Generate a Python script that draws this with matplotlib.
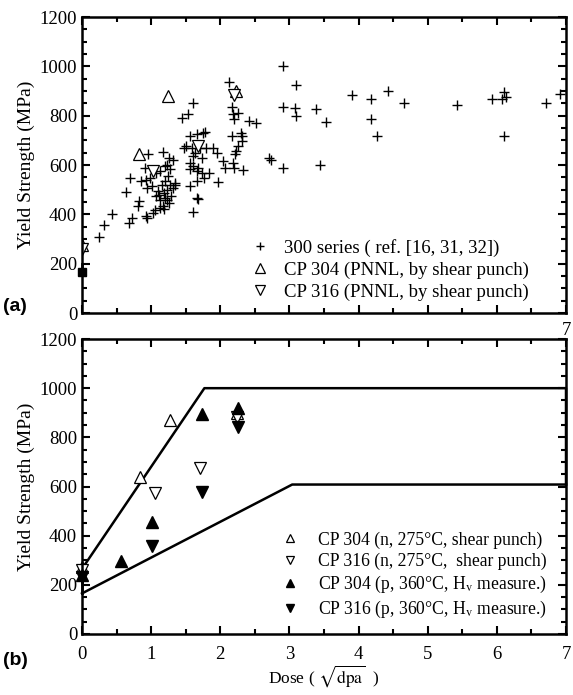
import numpy as np
import matplotlib.pyplot as plt
from matplotlib.ticker import MultipleLocator

plt.rcParams['font.family'] = ['Liberation Serif', 'DejaVu Serif']
plt.rcParams['mathtext.fontset'] = 'stix'

# (a) 300 series literature data, dose in sqrt(dpa), yield strength in MPa
ss300_dose = [0.24, 0.32, 0.44, 0.63, 0.70, 0.68, 0.72, 0.81, 0.83, 0.93, 0.94, 1.03, 1.06,
              1.13, 1.18, 0.95, 1.17,
              0.86, 0.93, 0.98, 0.94, 1.01, 0.91, 1.07, 1.13, 1.20, 1.23, 1.26, 1.31, 1.27,
              1.25, 1.20, 1.15, 1.10, 1.18, 1.23, 1.27, 1.34, 1.31, 1.35, 1.28, 1.23, 1.26,
              1.17, 1.12, 1.07, 1.13, 1.20,
              1.44, 1.54, 1.60, 1.56, 1.66, 1.75, 1.78, 1.47, 1.51, 1.59, 1.71, 1.80, 1.90,
              1.95, 1.64, 1.61, 1.73, 1.56, 1.61, 1.68, 1.56, 1.66, 1.73, 1.83, 1.76, 1.66,
              1.56, 1.96, 1.66, 1.68, 1.61,
              2.13, 2.17, 2.18, 2.26, 2.20, 2.41, 2.51, 2.17, 2.30, 2.31, 2.31, 2.26, 2.23,
              2.21, 2.04, 2.18, 2.07, 2.20, 2.33,
              2.71, 2.73, 2.91, 2.90, 3.10, 2.90, 3.08, 3.10, 3.39, 3.53, 3.44,
              3.91, 4.18, 4.42, 4.65, 4.18, 4.26, 5.42, 5.93, 6.07, 6.10, 6.13, 6.11, 6.71, 6.91]
ss300_ys = [308, 358, 403, 491, 548, 365, 385, 433, 453, 392, 385, 405, 416,
            426, 422, 645, 652,
            534, 541, 548, 507, 514, 588, 568, 575, 595, 602, 629, 622, 582,
            555, 534, 521, 494, 487, 500, 521, 521, 507, 527, 473, 460, 446,
            433, 480, 473, 460, 466,
            792, 805, 853, 717, 724, 731, 734, 670, 677, 670, 670, 670, 670,
            650, 650, 636, 629, 609, 595, 588, 582, 575, 568, 568, 548, 534,
            514, 530, 466, 462, 409,
            938, 837, 805, 812, 785, 778, 769, 717, 731, 717, 697, 677, 656,
            643, 616, 609, 588, 588, 579,
            629, 620, 586, 1002, 923, 835, 833, 799, 828, 774, 602,
            883, 869, 900, 853, 788, 717, 843, 867, 867, 896, 877, 717, 853, 887]

# CP 304 / CP 316 shear punch (PNNL)
cp304_sp_dose = [0.0, 0.83, 1.25, 2.23]
cp304_sp_ys = [275, 643, 880, 900]
cp316_sp_dose = [0.0, 1.03, 1.68, 2.20]
cp316_sp_ys = [260, 575, 677, 883]

# (b) neutron (shear punch) and proton (Hv) data
cp304_n_dose = [0.0, 0.84, 1.27, 2.24]
cp304_n_ys = [274, 640, 871, 900]
cp316_n_dose = [0.0, 1.06, 1.71, 2.24]
cp316_n_ys = [262, 575, 677, 884]
cp304_p_dose = [0.0, 0.56, 1.01, 1.74, 2.25]
cp304_p_ys = [240, 298, 457, 894, 918]
cp316_p_dose = [0.0, 1.01, 1.74, 2.25]
cp316_p_ys = [230, 359, 576, 843]

# bounding lines
upper_dose = [0.0, 1.77, 7.0, 7.0]
upper_ys = [265, 1000, 1000, 608]
lower_dose = [0.0, 3.04, 7.0]
lower_ys = [165, 608, 608]

fig = plt.figure(figsize=(5.73, 6.95), dpi=100)
ax1 = fig.add_axes([0.1431, 0.5496, 0.8447, 0.4259])
ax2 = fig.add_axes([0.1431, 0.0878, 0.8447, 0.4244])

FS = 13.5


def style_axes(ax):
    ax.set_xlim(0, 7)
    ax.set_ylim(0, 1200)
    ax.xaxis.set_major_locator(MultipleLocator(1))
    ax.xaxis.set_minor_locator(MultipleLocator(0.5))
    ax.yaxis.set_major_locator(MultipleLocator(200))
    ax.yaxis.set_minor_locator(MultipleLocator(50))
    ax.tick_params(which='both', direction='in', top=True, right=True, width=1.5)
    ax.tick_params(which='major', length=6, labelsize=FS)
    ax.tick_params(which='minor', length=3.5)
    for s in ax.spines.values():
        s.set_linewidth(1.8)
    ax.set_ylabel('Yield Strength (MPa)', fontsize=14, labelpad=3)


ms_tri = 8.5
# ---- (a)
ax1.plot(ss300_dose, ss300_ys, '+', color='black', ms=7, mew=1.0, ls='none',
         label='300 series ( ref. [16, 31, 32])')
ax1.plot(cp304_sp_dose, cp304_sp_ys, '^', mfc='white', mec='black', ms=ms_tri, mew=0.9,
         ls='none', label='CP 304 (PNNL, by shear punch)')
ax1.plot(cp316_sp_dose, cp316_sp_ys, 'v', mfc='white', mec='black', ms=ms_tri, mew=0.9,
         ls='none', label='CP 316 (PNNL, by shear punch)')
ax1.plot([0, 0], [168, 200], color='black', lw=2, clip_on=False)
ax1.plot([0], [168], 's', color='black', ms=6, clip_on=False)
style_axes(ax1)
ax1.set_xticklabels([])
ax1.legend(loc='lower right', bbox_to_anchor=(0.955, -0.01), frameon=False, fontsize=FS,
           handletextpad=0.6, handlelength=1.4, labelspacing=0.25, borderpad=0.3,
           markerscale=0.8)

# ---- (b)
ax2.plot(upper_dose, upper_ys, color='black', lw=1.8, clip_on=False)
ax2.plot(lower_dose, lower_ys, color='black', lw=1.8, clip_on=False)
ax2.plot([0, 0], [165, 240], color='black', lw=2, clip_on=False)
ax2.plot(cp304_n_dose, cp304_n_ys, '^', mfc='white', mec='black', ms=ms_tri, mew=0.9,
         ls='none', clip_on=False, label='CP 304 (n, 275°C, shear punch)')
ax2.plot(cp316_n_dose, cp316_n_ys, 'v', mfc='white', mec='black', ms=ms_tri, mew=0.9,
         ls='none', clip_on=False, label='CP 316 (n, 275°C,  shear punch)')
ax2.plot(cp304_p_dose, cp304_p_ys, '^', color='black', ms=ms_tri, ls='none',
         clip_on=False, label='CP 304 (p, 360°C, H$_\\mathrm{v}$ measure.)')
ax2.plot(cp316_p_dose, cp316_p_ys, 'v', color='black', ms=ms_tri, ls='none',
         clip_on=False, label='CP 316 (p, 360°C, H$_\\mathrm{v}$ measure.)')
style_axes(ax2)
ax2.set_xlabel('Dose ( $\\sqrt{\\mathrm{dpa}}$  )', fontsize=12.5, labelpad=0)
ax2.tick_params(axis='x', which='major', pad=9)
ax2.legend(loc='lower right', bbox_to_anchor=(0.99, 0.0), frameon=False, fontsize=12.7,
           handletextpad=1.0, handlelength=1.2, labelspacing=0.22, borderpad=0.3,
           markerscale=0.75)
ax2.text(7.0, 1200, '7', ha='center', va='bottom', fontsize=FS)

fig.text(0.005, 0.553, '(a)', fontsize=14, fontweight='bold', family='Liberation Sans')
fig.text(0.005, 0.043, '(b)', fontsize=14, fontweight='bold', family='Liberation Sans')

fig.savefig('out.png', dpi=100)
